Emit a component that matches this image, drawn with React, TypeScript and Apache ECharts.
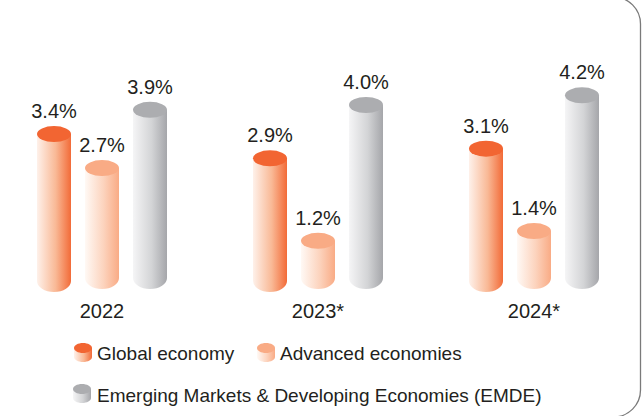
import React, { useEffect, useRef } from "react";
import * as echarts from "echarts";

const categories = ["2022", "2023*", "2024*"];
const globalEconomy = [3.4, 2.9, 3.1];
const advancedEconomies = [2.7, 1.2, 1.4];
const emdeEconomies = [3.9, 4.0, 4.2];
const seriesNames = [
  "Global economy",
  "Advanced economies",
  "Emerging Markets & Developing Economies (EMDE)",
];

const FONT = "'Liberation Sans', Arial, Helvetica, sans-serif";
const TEXT = "#231f20";

const palettes = [
  { top: "#f26532", stops: ["#fef1ea", "#f9b996", "#f26b38"] },
  { top: "#f9ab85", stops: ["#fff9f5", "#fcd3bd", "#f9ab85"] },
  { top: "#acadb0", stops: ["#f5f5f6", "#d3d4d6", "#a5a6aa"] },
];

function grad(stops: string[]) {
  return new echarts.graphic.LinearGradient(0, 0, 1, 0, [
    { offset: 0, color: stops[0] },
    { offset: 0.55, color: stops[1] },
    { offset: 1, color: stops[2] },
  ]);
}

function makeRender(offset: number, baseLift: number, pal: any) {
  return (params: any, api: any) => {
    const cat = api.value(0);
    const v = api.value(1);
    const top = api.coord([cat, v]);
    const base = api.coord([cat, 0]);
    const cx = top[0] + offset;
    const rx = 17;
    const ry = 8;
    const bry = 11;
    const ty = top[1];
    const by = base[1] - baseLift;
    const body = `M${cx - rx},${ty} L${cx - rx},${by} A${rx},${bry} 0 0 0 ${cx + rx},${by} L${cx + rx},${ty} Z`;
    const cap = `M${cx - rx},${ty} A${rx},${ry} 0 1 0 ${cx + rx},${ty} A${rx},${ry} 0 1 0 ${cx - rx},${ty} Z`;
    return {
      type: "group",
      children: [
        { type: "path", shape: { pathData: body }, style: { fill: grad(pal.stops) } },
        { type: "path", shape: { pathData: cap }, style: { fill: pal.top } },
        {
          type: "text",
          x: cx,
          y: ty - 23,
          style: {
            text: v.toFixed(1) + "%",
            fill: TEXT,
            fontSize: 20,
            fontFamily: FONT,
            align: "center",
            verticalAlign: "middle",
          },
        },
      ],
    };
  };
}

function legendIcon(x: number, y: number, pal: any) {
  return {
    type: "group",
    x,
    y,
    children: [
      { type: "rect", shape: { x: 0, y: 5, width: 18, height: 9 }, style: { fill: grad(pal.stops) } },
      { type: "ellipse", shape: { cx: 9, cy: 14, rx: 9, ry: 5 }, style: { fill: grad(pal.stops) } },
      { type: "ellipse", shape: { cx: 9, cy: 5, rx: 9, ry: 5 }, style: { fill: pal.top } },
    ],
  };
}

function legendText(x: number, y: number, text: string) {
  return {
    type: "text",
    x,
    y,
    style: { text, fill: TEXT, fontSize: 19, fontFamily: FONT, verticalAlign: "middle", align: "left" },
  };
}

export default function App() {
  const ref = useRef<HTMLDivElement>(null);
  useEffect(() => {
    if (!ref.current) return;
    const chart = echarts.init(ref.current, null, { renderer: "svg" });
    const allSeries = [globalEconomy, advancedEconomies, emdeEconomies];
    const offsets = [-48, 0, 48];
    const lifts = [18, 21, 21];
    chart.setOption({
      animation: false,
      grid: { left: -6, width: 648, top: 56.5, bottom: 117, outerBoundsMode: "none", containLabel: false },
      xAxis: {
        type: "category",
        data: categories,
        axisLine: { show: false },
        axisTick: { show: false },
        axisLabel: { fontSize: 20, color: TEXT, fontFamily: FONT, margin: 2 },
      },
      yAxis: { type: "value", min: 0, max: 5, show: false, splitLine: { show: false } },
      series: allSeries.map((vals, i) => ({
        type: "custom",
        name: seriesNames[i],
        renderItem: makeRender(offsets[i], lifts[i], palettes[i]),
        data: vals.map((v, j) => [j, v]),
        encode: { x: 0, y: 1 },
      })),
      graphic: [
        {
          type: "rect",
          shape: { x: -40, y: -3, width: 680.5, height: 420, r: 27 },
          style: { fill: "none", stroke: "#7a7a7a", lineWidth: 1.3 },
          silent: true,
        },
        legendIcon(74, 343, palettes[0]),
        legendText(97, 353, seriesNames[0]),
        legendIcon(257, 343, palettes[1]),
        legendText(280, 353, seriesNames[1]),
        legendIcon(73, 384, palettes[2]),
        legendText(97, 395, seriesNames[2]),
      ],
    });
    return () => chart.dispose();
  }, []);
  return (
    <div
      ref={ref}
      style={{ position: "fixed", left: 0, top: 0, width: 643, height: 416, background: "#fff" }}
    />
  );
}
